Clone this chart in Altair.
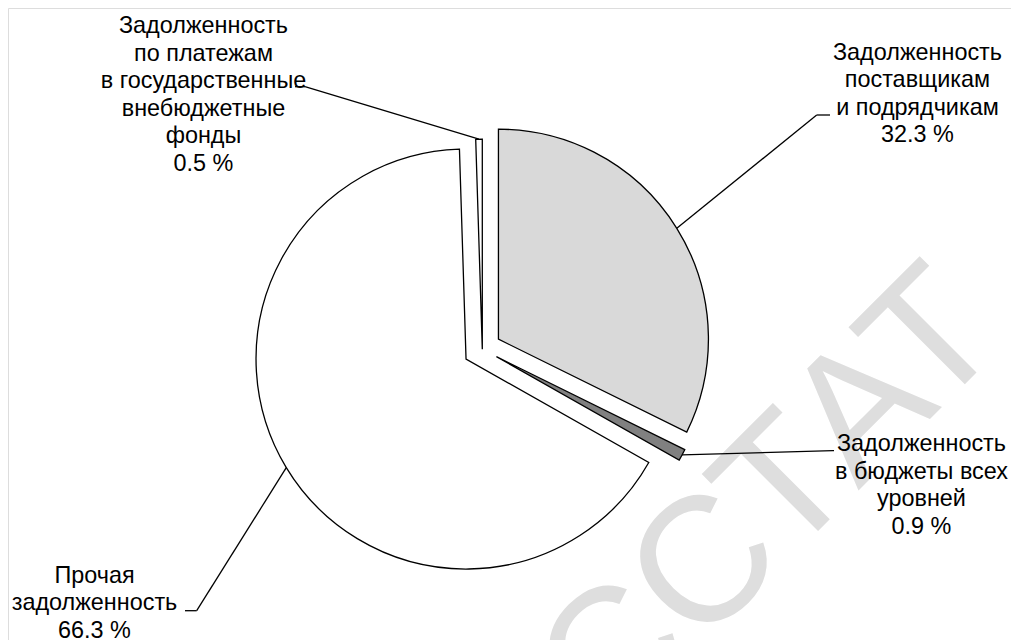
import math
import altair as alt
import pandas as pd

# ---------------- data ----------------
categories = [
    "Задолженность поставщикам и подрядчикам",
    "Задолженность в бюджеты всех уровней",
    "Прочая задолженность",
    "Задолженность по платежам в государственные внебюджетные фонды",
]
shares = [32.3, 0.9, 66.3, 0.5]
label_names = [
    "Задолженность\nпоставщикам\nи подрядчикам",
    "Задолженность\nв бюджеты всех\nуровней",
    "Прочая\nзадолженность",
    "Задолженность\nпо платежам\nв государственные\nвнебюджетные\nфонды",
]
watermark_text = "РОССТАТ"

# ---------------- style / layout ----------------
OFF = 8  # page margin
fills = ["#d9d9d9", "#808080", "#ffffff", "#ffffff"]
explode_px = [19, 16, 19, 0]
CX, CY, R = 482.3 - OFF, 349.2 - OFF, 210
label_x = [917.5 - OFF, 921.5 - OFF, 94.5 - OFF, 203.5 - OFF]
label_y = [59.8 - OFF, 451.3 - OFF, 582.5 - OFF, 33.2 - OFF]
elbow_x = [816.7 - OFF, 833 - OFF, 196.7 - OFF, 305 - OFF]
elbow_y = [115 - OFF, 450.7 - OFF, 610.7 - OFF, 86.7 - OFF]
stub_x = [830 - OFF, 834 - OFF, 185 - OFF, 295 - OFF]
FONT = "Liberation Sans"
FS = 23.4
LH = 27.5

df = pd.DataFrame({
    "order": list(range(len(categories))),
    "category": categories,
    "share": shares,
    "label": [f"{n}\n{v} %" for n, v in zip(label_names, shares)],
    "explode": explode_px,
    "lx": label_x,
    "ly": label_y,
    "ex": elbow_x,
    "ey": elbow_y,
    "sx": stub_x,
})

TWO_PI = 2 * math.pi
base = (
    alt.Chart(df)
    .transform_window(cum="sum(share)", sort=[alt.SortField("order")], frame=[None, 0])
    .transform_calculate(
        start="datum.cum - datum.share",
        end="datum.cum",
        mid="datum.cum - datum.share / 2",
    )
    .transform_calculate(
        ang=f"datum.mid / 100 * {TWO_PI}",
    )
    .transform_calculate(
        cx=f"{CX} + datum.explode * sin(datum.ang)",
        cy=f"{CY} - datum.explode * cos(datum.ang)",
    )
    .transform_calculate(
        ax=f"datum.cx + {R} * sin(datum.ang)",
        ay=f"datum.cy - {R} * cos(datum.ang)",
    )
)

arcs = base.mark_arc(radius=R, stroke="black", strokeWidth=1.3).encode(
    x=alt.X("cx:Q", scale=None, axis=None),
    y=alt.Y("cy:Q", scale=None, axis=None),
    theta=alt.Theta("start:Q", scale=alt.Scale(domain=[0, 100], range=[0, TWO_PI])),
    theta2="end:Q",
    color=alt.Color("category:N", scale=alt.Scale(domain=categories, range=fills), legend=None),
)

leaders = base.mark_rule(color="black", strokeWidth=1.3).encode(
    x=alt.X("ax:Q", scale=None, axis=None),
    y=alt.Y("ay:Q", scale=None, axis=None),
    x2="ex:Q",
    y2="ey:Q",
)

stubs = base.mark_rule(color="black", strokeWidth=1.3).encode(
    x=alt.X("ex:Q", scale=None, axis=None),
    y=alt.Y("ey:Q", scale=None, axis=None),
    x2="sx:Q",
    y2="ey:Q",
)

labels = base.mark_text(
    font=FONT, fontSize=FS, lineHeight=LH, lineBreak="\n",
    align="center", baseline="alphabetic", color="black",
).encode(
    x=alt.X("lx:Q", scale=None, axis=None),
    y=alt.Y("ly:Q", scale=None, axis=None),
    text="label:N",
)

wm = alt.Chart(pd.DataFrame({"t": [watermark_text]})).mark_text(
    font=FONT, fontSize=178, angle=315, color="#dedede",
    align="center", baseline="alphabetic",
).encode(
    x=alt.value(719 - OFF),
    y=alt.value(630 - OFF),
    text="t:N",
)

chart = (
    alt.layer(wm, arcs, leaders, stubs, labels)
    .properties(width=1003, height=632, autosize=alt.AutoSizeParams(type="none"), padding=0)
    .configure_view(stroke="white", fill="white", strokeWidth=0)
    .configure(background="white")
)

chart.save("out.html", embed_options={"renderer": "svg", "actions": False})
